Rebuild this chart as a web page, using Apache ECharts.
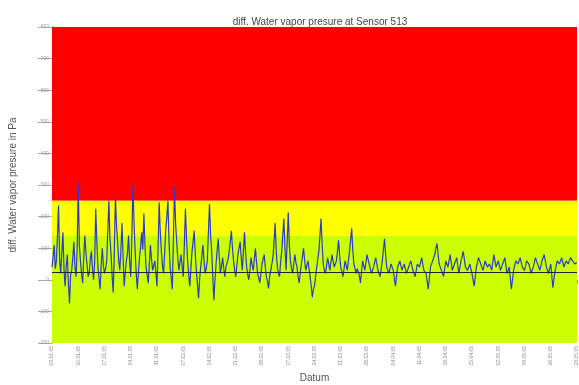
<!DOCTYPE html>
<html><head><meta charset="utf-8">
<script src="https://cdn.jsdelivr.net/npm/echarts@6/dist/echarts.min.js"></script>
<style>html,body{margin:0;padding:0;background:#fff}#c{width:579px;height:385px}</style>
</head><body><div id="c"></div>
<script>
const tickLabels = ["03.01.05","10.01.05","17.01.05","24.01.05","31.01.05","07.02.05","14.02.05","21.02.05","28.02.05","07.03.05","14.03.05","21.03.05","28.03.05","04.04.05","11.04.05","18.04.05","25.04.05","02.05.05","09.05.05","16.05.05","23.05.05"];
const pointsPerTick = 24;
const values = [
40,75,110,35,60,140,235,60,20,90,150,30,-20,45,80,-10,-75,15,30,70,120,40,10,95,305,110,60,20,-10,70,140,85,50,10,20,65,90,35,0,55,
225,120,40,5,-30,50,100,45,20,35,60,150,250,130,80,10,-40,90,265,170,120,60,30,95,180,70,-20,25,60,85,140,55,10,140,300,180,90,20,-30,25,
70,105,150,95,210,110,40,15,-10,50,110,65,30,45,60,20,-20,100,245,150,90,45,20,85,160,200,250,120,40,5,-30,130,292,180,120,70,30,55,80,40,
10,110,225,130,60,15,-20,35,90,120,155,80,30,-15,-58,5,40,75,110,60,20,35,60,150,240,140,90,10,-65,0,50,95,130,65,20,45,70,35,10,40,
40,65,90,120,155,100,60,30,10,45,80,100,120,70,30,90,150,85,40,15,0,35,70,45,30,65,100,55,20,5,-10,20,50,65,80,40,10,-5,-27,10,
30,50,70,120,180,90,40,20,10,55,90,140,194,100,30,120,213,110,60,35,20,50,80,55,40,10,-10,20,50,75,100,60,30,45,60,35,10,-20,-55,-30,
-20,10,40,65,90,140,194,110,50,30,20,45,70,50,30,55,80,60,40,50,60,90,125,75,40,25,10,35,60,45,30,60,90,125,163,95,50,35,20,35,
40,15,-10,25,60,45,30,55,80,65,50,35,20,30,40,55,70,50,30,20,10,35,60,95,130,80,40,30,20,35,50,40,30,5,-20,10,40,50,60,45,
30,40,50,35,20,30,40,50,60,45,30,20,10,30,50,45,40,55,70,50,30,25,20,-5,-30,5,40,50,60,70,80,100,115,80,50,40,30,20,10,35,
60,50,40,60,80,55,30,40,50,60,70,45,20,40,60,75,90,65,40,35,30,40,50,35,20,0,-20,10,40,55,70,60,50,40,30,45,60,50,40,45,
50,40,30,55,80,60,40,50,60,45,30,40,50,60,70,45,20,30,40,5,-30,0,30,45,60,55,50,60,70,55,40,35,30,45,60,55,50,35,20,30,
40,55,70,60,50,40,30,45,60,70,80,60,40,30,20,35,50,10,-25,5,30,45,60,55,50,60,70,55,40,50,60,55,50,60,70,65,60,55,50,50,55
];
const yTicks = {min:-200, max:800, interval:100};
const bands = [
  {from:250, to:800, color:'#ff0000'},
  {from:140, to:250, color:'#ffff00'},
  {from:-200, to:140, color:'#ccff00'}
];
const refLine = 25;

const chart = echarts.init(document.getElementById('c'));
chart.setOption({
  animation:false,
  title:{text:'diff. Water vapor presure at Sensor 513', left:315, top:12, textAlign:'center',
    textStyle:{fontSize:10, fontWeight:'normal', color:'#444', fontFamily:'Arial, Liberation Sans'}},
  grid:{left:52, right:2, top:27, bottom:42, containLabel:false, outerBoundsMode:'none'},
  xAxis:{type:'value', min:0, max:(tickLabels.length-1)*pointsPerTick, interval:pointsPerTick,
    name:'Datum', nameLocation:'middle', nameGap:30,
    nameTextStyle:{fontSize:10, color:'#555', fontFamily:'Arial, Liberation Sans'},
    axisLine:{lineStyle:{color:'#777'}},
    axisTick:{length:4, lineStyle:{color:'#999'}},
    axisLabel:{rotate:90, fontSize:5, color:'#888', margin:3,
      formatter:v=>tickLabels[Math.round(v/pointsPerTick)]||''},
    splitLine:{show:true, lineStyle:{color:'rgba(255,255,255,0.3)', width:1}}},
  yAxis:{type:'value', min:yTicks.min, max:yTicks.max, interval:yTicks.interval,
    name:'diff. Water vapor presure in Pa', nameLocation:'middle', nameGap:34,
    nameTextStyle:{fontSize:10, color:'#555', fontFamily:'Arial, Liberation Sans'},
    axisLine:{show:true, lineStyle:{color:'#555'}},
    axisTick:{show:true, length:14, lineStyle:{color:'#aaa'}},
    axisLabel:{fontSize:5, color:'#999', margin:3},
    splitLine:{show:true, lineStyle:{color:'rgba(255,255,255,0.3)', width:1}}},
  series:[{type:'line', data:values.map((v,i)=>[i,v]), symbol:'none',
    lineStyle:{color:'#2a3ad0', width:1.2},
    markArea:{silent:true, data:bands.map(b=>[{yAxis:b.from, itemStyle:{color:b.color}},{yAxis:b.to}])},
    markLine:{silent:true, symbol:'none', label:{show:false},
      lineStyle:{color:'#223', width:1, type:'solid'}, data:[{yAxis:refLine}]},
    z:3}]
});
</script></body></html>
